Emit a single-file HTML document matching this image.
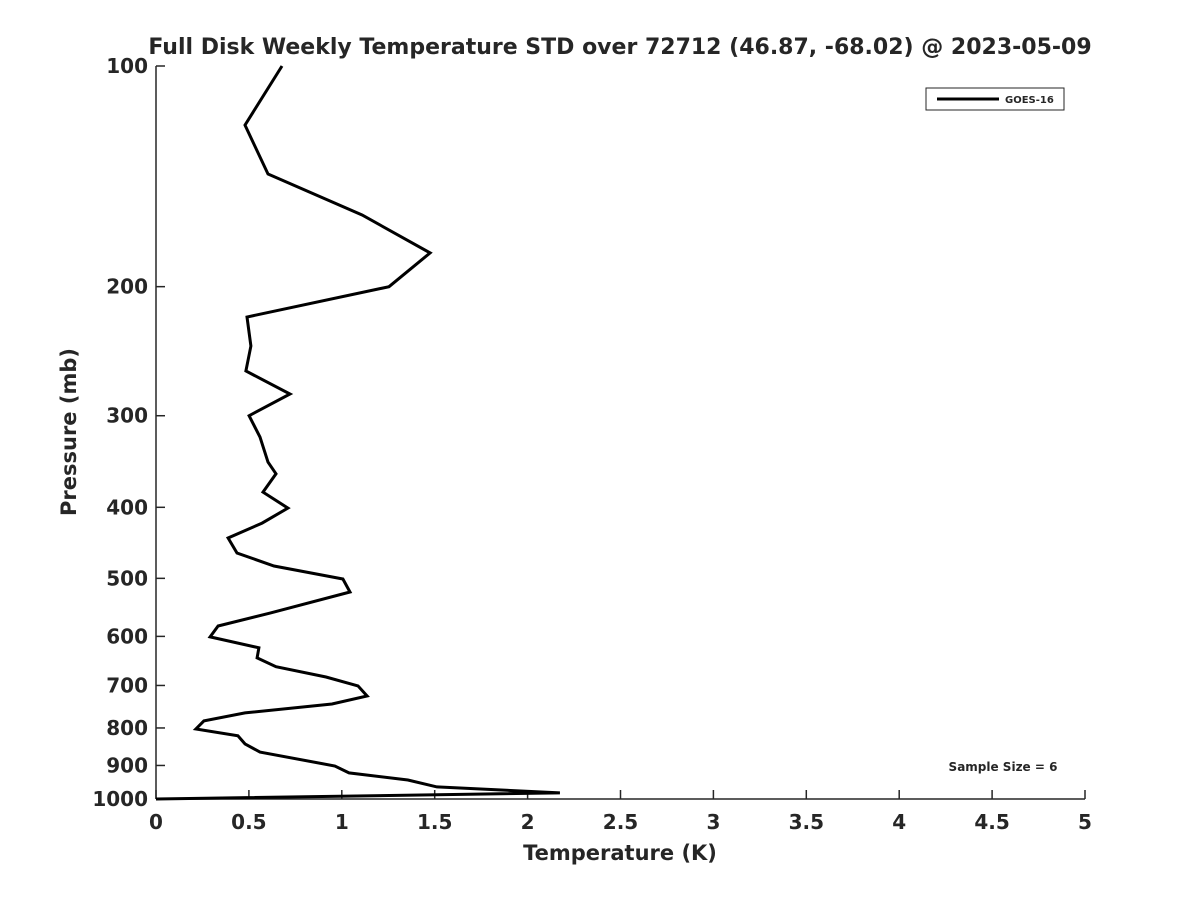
<!DOCTYPE html>
<html><head><meta charset="utf-8"><style>
body{margin:0;background:#fff;}
svg text{font-family:"DejaVu Sans","Liberation Sans",sans-serif;font-weight:bold;fill:#262626;}
</style></head><body>
<svg id="chart" width="1200" height="900">
<text x="620" y="54" text-anchor="middle" font-size="22">Full Disk Weekly Temperature STD over 72712 (46.87, -68.02) @ 2023-05-09</text>
<g id="axes"></g>
<text x="620" y="860" text-anchor="middle" font-size="21">Temperature (K)</text>
<text transform="translate(76,432) rotate(-90)" text-anchor="middle" font-size="21">Pressure (mb)</text>
<g>
<rect x="926" y="88" width="138" height="22" fill="#fff" stroke="#262626" stroke-width="1"/>
<line x1="937" y1="99" x2="999" y2="99" stroke="#000" stroke-width="3"/>
<text x="1005" y="103" font-size="10">GOES-16</text>
</g>
<text x="1003" y="771" text-anchor="middle" font-size="12">Sample Size = 6</text>
</svg>
<script>
const temps=[0.678,0.479,0.603,1.109,1.475,1.254,0.490,0.511,0.484,0.721,0.501,0.560,0.603,0.646,0.576,0.710,0.571,0.388,0.436,0.635,1.006,1.044,0.614,0.334,0.291,0.554,0.544,0.646,0.915,1.087,1.136,0.947,0.479,0.258,0.215,0.441,0.479,0.560,0.963,1.039,1.356,1.512,2.174,0];
const pressures=[100,120.4,140.4,159.7,179.9,200,220,241,260.7,280.2,300,320.8,347,360,381.3,401,420.3,440.5,461.7,481,501,521.9,557.7,580.8,601,622,642,660,681.6,701,723.5,742,763,782.5,802.6,820,841,862.9,901.6,921.3,942,962.7,981,1000];
const xTicks=[0,0.5,1,1.5,2,2.5,3,3.5,4,4.5,5];
const xTickLabels=["0","0.5","1","1.5","2","2.5","3","3.5","4","4.5","5"];
const yTicks=[100,200,300,400,500,600,700,800,900,1000];
const yTickLabels=["100","200","300","400","500","600","700","800","900","1000"];
const X0=156,X1=1085,Y0=66,Y1=799;
const xs=v=>X0+(v-0)/(5-0)*(X1-X0);
const ys=p=>Y0+(Math.log10(p)-2)/(3-2)*(Y1-Y0);
const NS="http://www.w3.org/2000/svg";
const g=document.getElementById('axes');
function mk(t,a){const e=document.createElementNS(NS,t);for(const k in a)e.setAttribute(k,a[k]);return e;}
let e=mk('line',{x1:X0,y1:Y0,x2:X0,y2:Y1,stroke:'#262626','stroke-width':1.5});


g.appendChild(e);
e=mk('line',{x1:X0,y1:Y1,x2:X1,y2:Y1,stroke:'#262626','stroke-width':1.5});


g.appendChild(e);
xTicks.forEach((v,i)=>{
 const t=mk('line',{x1:xs(v),y1:Y1,x2:xs(v),y2:Y1-9,stroke:'#262626','stroke-width':1.5});
 
 
 g.appendChild(t);
 const l=mk('text',{x:xs(v),y:Y1+30,'text-anchor':'middle','font-size':20});
 
 
 l.textContent=xTickLabels[i];g.appendChild(l);
});
yTicks.forEach((v,i)=>{
 const t=mk('line',{x1:X0,y1:ys(v),x2:X0+9,y2:ys(v),stroke:'#262626','stroke-width':1.5});
 
 
 g.appendChild(t);
 const l=mk('text',{x:X0-8,y:ys(v)+7,'text-anchor':'end','font-size':20});
 
 
 l.textContent=yTickLabels[i];g.appendChild(l);
});
const pts=temps.map((t,i)=>xs(t).toFixed(1)+','+ys(pressures[i]).toFixed(1)).join(' ');
const pl=mk('polyline',{points:pts,fill:'none',stroke:'#000','stroke-width':3,'stroke-linejoin':'miter'});


g.appendChild(pl);
</script>
</body></html>
